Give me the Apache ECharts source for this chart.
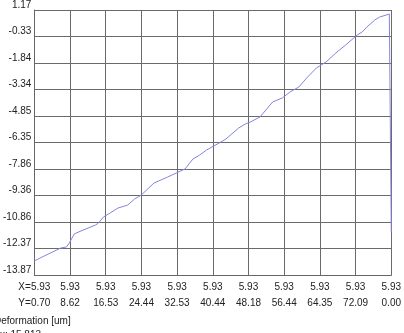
<!DOCTYPE html>
<html><head><meta charset="utf-8">
<script src="https://cdn.jsdelivr.net/npm/echarts@6/dist/echarts.min.js"></script>
<style>html,body{margin:0;padding:0;background:#fff}#c{width:404px;height:333px}</style>
</head><body><div id="c"></div>
<script>
// y tick labels, bottom to top
const yTickLabels = ['-13.87','-12.37','-10.86','-9.36','-7.86','-6.35','-4.85','-3.34','-1.84','-0.33','1.17'];
// x tick labels (two rows)
const xRowX = ['X=5.93','5.93','5.93','5.93','5.93','5.93','5.93','5.93','5.93','5.93','5.93'];
const xRowY = ['Y=0.70','8.62','16.53','24.44','32.53','40.44','48.18','56.44','64.35','72.09','0.00'];
// profile trace: position (grid units) and deformation [um]
const posX = [0,0.218,0.627,0.736,0.899,0.981,1.117,1.308,1.717,1.798,1.935,2.125,2.343,2.616,2.807,2.997,3.351,3.733,4.223,4.278,4.441,4.632,4.823,5.177,5.368,5.722,5.913,6.049,6.322,6.485,6.676,6.948,7.166,7.411,7.629,7.902,8.174,8.447,8.719,9.046,9.183,9.319,9.537,9.673,9.946,10,10];
const defY = [-13.07,-12.85,-12.45,-12.34,-12.28,-12.05,-11.54,-11.37,-11.03,-10.92,-10.58,-10.35,-10.07,-9.90,-9.56,-9.33,-8.65,-8.31,-7.85,-7.74,-7.29,-7.06,-6.78,-6.38,-6.15,-5.53,-5.30,-5.19,-4.90,-4.51,-4.05,-3.82,-3.48,-3.20,-2.69,-2.12,-1.78,-1.27,-0.82,-0.25,-0.08,0.21,0.60,0.77,0.94,0.94,-11.43];

const yMin = -13.87, yMax = 1.17, yStep = (yMax - yMin) / 10;
const yTickValues = yTickLabels.map((_, i) => yMin + i * yStep);
const chart = echarts.init(document.getElementById('c'));
const font = 'Liberation Sans, Arial, sans-serif';
chart.setOption({
  animation: false,
  grid: {left: 30, right: 7, top: 10, bottom: 58},
  xAxis: {
    type: 'value', min: 0, max: 10, interval: 1,
    axisLine: {show: true, onZero: false, lineStyle: {color: '#666', width: 1}},
    axisTick: {show: false},
    splitLine: {show: true, lineStyle: {color: '#6a6a6a', width: 1}},
    axisLabel: {
      margin: 4, color: '#222', fontSize: 10, fontFamily: font, lineHeight: 16,
      formatter: function (v) { const i = Math.round(v); return xRowX[i] + '\n' + xRowY[i]; }
    }
  },
  yAxis: {
    type: 'value', min: yMin, max: yMax,
    axisLine: {show: true, onZero: false, lineStyle: {color: '#666', width: 1}},
    axisTick: {show: false, customValues: yTickValues},
    splitLine: {show: true, lineStyle: {color: '#6a6a6a', width: 1}},
    axisLabel: {
      customValues: yTickValues,
      margin: 3, color: '#222', fontSize: 10, fontFamily: font, verticalAlign: 'bottom',
      formatter: function (v) { return yTickLabels[Math.round((v - yMin) / yStep)]; }
    }
  },
  graphic: [
    {type: 'text', left: -6, top: 316, style: {text: 'Deformation [um]', font: '10px ' + font, fill: '#222'}},
    {type: 'text', left: -14, top: 330, style: {text: 'Max: 15.813', font: '10px ' + font, fill: '#222'}}
  ],
  series: [{
    type: 'line', showSymbol: false, clip: false,
    data: posX.map((x, i) => [x, defY[i]]),
    lineStyle: {color: '#8484dc', width: 1}
  }]
});
</script></body></html>
